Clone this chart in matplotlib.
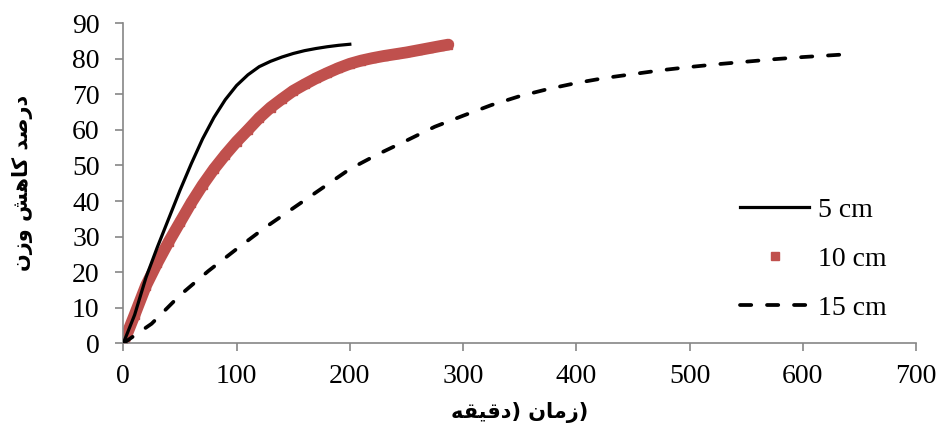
import matplotlib
matplotlib.use('Agg')
import matplotlib.pyplot as plt

# 5 cm (zaman, darsad kahesh vazn)
x5 = [0, 10, 20, 30, 40, 50, 60, 70, 80, 90, 100, 110, 120, 130, 140, 150, 160, 170, 180, 190, 200]
y5 = [0, 8, 18.5, 27, 35, 43, 50.5, 57.5, 63.5, 68.5, 72.5, 75.5, 77.8, 79.3, 80.5, 81.5, 82.3, 82.9, 83.4, 83.8, 84.1]

# 10 cm
x10 = [0, 10, 20, 30, 40, 50, 60, 70, 80, 90, 100, 110, 120, 130, 140, 150, 160, 170, 180, 190,
       200, 210, 220, 230, 240, 250, 260, 270, 280, 287]
y10 = [0, 8, 16.2, 22.6, 28.5, 34, 39.5, 44.5, 49, 53, 56.7, 60, 63.4, 66.3, 68.7, 71, 72.8, 74.5, 76, 77.4,
       78.6, 79.5, 80.2, 80.8, 81.3, 81.8, 82.4, 83, 83.6, 84]

# 15 cm
x15 = [0, 25, 50, 75, 100, 125, 150, 175, 200, 225, 250, 275, 300, 325, 350, 375, 400, 425, 450,
       475, 500, 525, 550, 575, 600, 625, 640]
y15 = [0, 5.5, 13.5, 20.3, 26.5, 32.5, 38, 43.5, 49, 53.2, 57, 60.9, 64, 67, 69.5, 71.5, 73.2, 74.6, 75.7,
       76.8, 77.7, 78.5, 79.2, 79.9, 80.5, 81, 81.3]

labels = ['5 cm', '10 cm', '15 cm']
xticks = [0, 100, 200, 300, 400, 500, 600, 700]
yticks = [0, 10, 20, 30, 40, 50, 60, 70, 80, 90]

# persian labels, shaped glyphs in visual order (matplotlib has no bidi)
zaman = '\uFEE5\uFE8E\uFEE3\uFEAF'
daghighe = '\uFEEA\uFED8\uFEF4\uFED7\uFEA9'
xlabel = daghighe + ') ' + zaman + ')'
darsad = '\uFEAA\uFEBB\uFEAD\uFEA9'
kahesh = '\uFEB6\uFEEB\uFE8E\uFEDB'
vazn = '\uFEE5\uFEAF\uFEED'
ylabel = vazn + ' ' + kahesh + ' ' + darsad

red = '#C0504D'
gray = '#868686'

plt.rcParams['font.family'] = 'Liberation Serif'

fig = plt.figure(figsize=(9.4, 4.28), dpi=100)
ax = fig.add_axes([0.1312, 0.198, 0.8433, 0.7476])

ax.plot(x5, y5, color='black', lw=2.3, label=labels[0], zorder=3)
# dense square markers in the original -> thick band + markers
ax.plot(x10, y10, color=red, lw=8.5, solid_capstyle='round', zorder=2)
ax.plot(x10, y10, 's', color=red, ms=6, label=labels[1], zorder=2)
ax.plot(x15, y15, color='black', lw=2.7, dashes=(3, 4.2), dash_capstyle='round',
        label=labels[2], zorder=3)

ax.set_xlim(0, 700)
ax.set_ylim(0, 90)
ax.set_xticks(xticks)
ax.set_yticks(yticks)
ax.tick_params(labelsize=20, length=6, width=1.2, color=gray)
ax.tick_params(axis='y', pad=11)
ax.tick_params(axis='x', pad=9)
for s in ['top', 'right']:
    ax.spines[s].set_visible(False)
for s in ['left', 'bottom']:
    ax.spines[s].set_color(gray)
    ax.spines[s].set_linewidth(1.2)

ax.set_xlabel(xlabel, family=['DejaVu Sans'], fontweight='bold', fontsize=15, labelpad=9)
ax.set_ylabel(ylabel, family=['DejaVu Sans'], fontweight='bold', fontsize=15, labelpad=28)

ax.legend(loc='center left', bbox_to_anchor=(740 / 940, 1 - 259 / 428), bbox_transform=fig.transFigure,
          frameon=False, fontsize=20, handlelength=2.5, handletextpad=0.3, labelspacing=0.85,
          borderpad=0, borderaxespad=0)

plt.savefig('out.png', dpi=100)
